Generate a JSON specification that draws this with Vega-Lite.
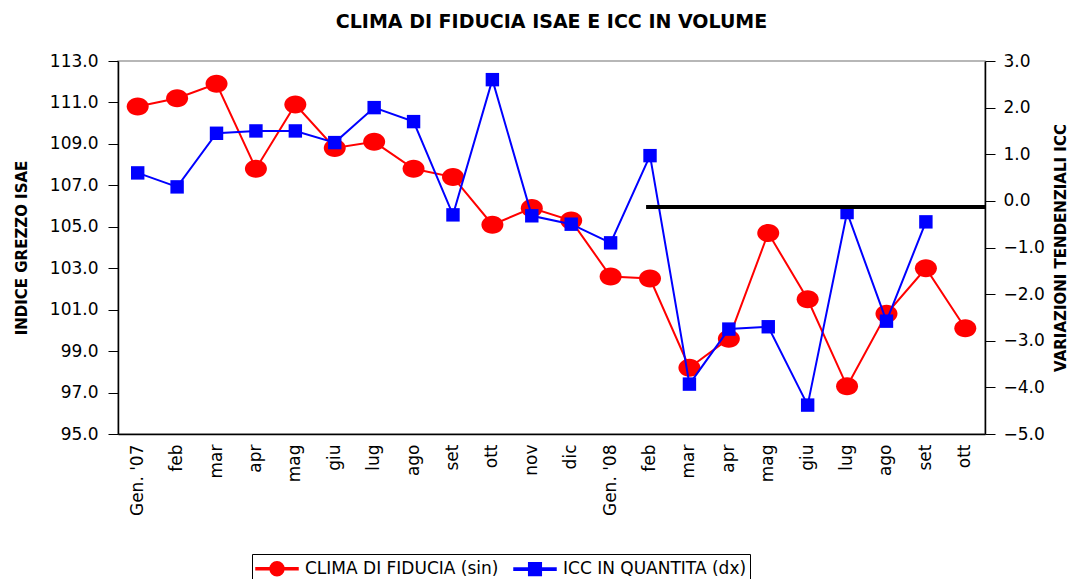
{
  "$schema": "https://vega.github.io/schema/vega-lite/v6.json",
  "autosize": {"type": "none"},
  "padding": {"left": 118, "top": 61, "right": 87, "bottom": 145},
  "width": 867,
  "height": 373,
  "background": "white",
  "config": {
    "font": "DejaVu Sans",
    "view": {"stroke": "#a0a0a0", "strokeWidth": 1.5},
    "axis": {"grid": false, "domainColor": "black", "domainWidth": 1.5, "tickColor": "black", "labelColor": "black", "titleColor": "black", "labelFont": "DejaVu Sans", "titleFont": "DejaVu Sans"}
  },
  "title": {"text": "CLIMA DI FIDUCIA ISAE E ICC IN VOLUME", "font": "DejaVu Sans", "fontSize": 19, "fontWeight": "bold", "color": "black", "anchor": "middle", "offset": 20},
  "datasets": {
    "clima": [
      {"m": "Gen. '07", "s": "CLIMA DI FIDUCIA (sin)", "v": 110.8},
      {"m": "feb 07", "s": "CLIMA DI FIDUCIA (sin)", "v": 111.2},
      {"m": "mar 07", "s": "CLIMA DI FIDUCIA (sin)", "v": 111.9},
      {"m": "apr 07", "s": "CLIMA DI FIDUCIA (sin)", "v": 107.8},
      {"m": "mag 07", "s": "CLIMA DI FIDUCIA (sin)", "v": 110.9},
      {"m": "giu 07", "s": "CLIMA DI FIDUCIA (sin)", "v": 108.8},
      {"m": "lug 07", "s": "CLIMA DI FIDUCIA (sin)", "v": 109.1},
      {"m": "ago 07", "s": "CLIMA DI FIDUCIA (sin)", "v": 107.8},
      {"m": "set 07", "s": "CLIMA DI FIDUCIA (sin)", "v": 107.4},
      {"m": "ott 07", "s": "CLIMA DI FIDUCIA (sin)", "v": 105.1},
      {"m": "nov 07", "s": "CLIMA DI FIDUCIA (sin)", "v": 105.9},
      {"m": "dic 07", "s": "CLIMA DI FIDUCIA (sin)", "v": 105.3},
      {"m": "Gen. '08", "s": "CLIMA DI FIDUCIA (sin)", "v": 102.6},
      {"m": "feb 08", "s": "CLIMA DI FIDUCIA (sin)", "v": 102.5},
      {"m": "mar 08", "s": "CLIMA DI FIDUCIA (sin)", "v": 98.2},
      {"m": "apr 08", "s": "CLIMA DI FIDUCIA (sin)", "v": 99.6},
      {"m": "mag 08", "s": "CLIMA DI FIDUCIA (sin)", "v": 104.7},
      {"m": "giu 08", "s": "CLIMA DI FIDUCIA (sin)", "v": 101.5},
      {"m": "lug 08", "s": "CLIMA DI FIDUCIA (sin)", "v": 97.3},
      {"m": "ago 08", "s": "CLIMA DI FIDUCIA (sin)", "v": 100.8},
      {"m": "set 08", "s": "CLIMA DI FIDUCIA (sin)", "v": 103.0},
      {"m": "ott 08", "s": "CLIMA DI FIDUCIA (sin)", "v": 100.1}
    ],
    "icc": [
      {"m": "Gen. '07", "s": "ICC IN QUANTITA (dx)", "v": 0.6},
      {"m": "feb 07", "s": "ICC IN QUANTITA (dx)", "v": 0.3},
      {"m": "mar 07", "s": "ICC IN QUANTITA (dx)", "v": 1.45},
      {"m": "apr 07", "s": "ICC IN QUANTITA (dx)", "v": 1.5},
      {"m": "mag 07", "s": "ICC IN QUANTITA (dx)", "v": 1.5},
      {"m": "giu 07", "s": "ICC IN QUANTITA (dx)", "v": 1.25},
      {"m": "lug 07", "s": "ICC IN QUANTITA (dx)", "v": 2.0},
      {"m": "ago 07", "s": "ICC IN QUANTITA (dx)", "v": 1.7},
      {"m": "set 07", "s": "ICC IN QUANTITA (dx)", "v": -0.3},
      {"m": "ott 07", "s": "ICC IN QUANTITA (dx)", "v": 2.6},
      {"m": "nov 07", "s": "ICC IN QUANTITA (dx)", "v": -0.32},
      {"m": "dic 07", "s": "ICC IN QUANTITA (dx)", "v": -0.5},
      {"m": "Gen. '08", "s": "ICC IN QUANTITA (dx)", "v": -0.9},
      {"m": "feb 08", "s": "ICC IN QUANTITA (dx)", "v": 0.97},
      {"m": "mar 08", "s": "ICC IN QUANTITA (dx)", "v": -3.93},
      {"m": "apr 08", "s": "ICC IN QUANTITA (dx)", "v": -2.75},
      {"m": "mag 08", "s": "ICC IN QUANTITA (dx)", "v": -2.7},
      {"m": "giu 08", "s": "ICC IN QUANTITA (dx)", "v": -4.38},
      {"m": "lug 08", "s": "ICC IN QUANTITA (dx)", "v": -0.25},
      {"m": "ago 08", "s": "ICC IN QUANTITA (dx)", "v": -2.58},
      {"m": "set 08", "s": "ICC IN QUANTITA (dx)", "v": -0.45}
    ],
    "rif": [
      {"m": "feb 08", "m2": "ott 08", "v": -0.13}
    ]
  },
  "encoding": {
    "x": {
      "field": "m", "type": "nominal",
      "scale": {"domain": ["Gen. '07", "feb 07", "mar 07", "apr 07", "mag 07", "giu 07", "lug 07", "ago 07", "set 07", "ott 07", "nov 07", "dic 07", "Gen. '08", "feb 08", "mar 08", "apr 08", "mag 08", "giu 08", "lug 08", "ago 08", "set 08", "ott 08"], "paddingInner": 0, "paddingOuter": 0},
      "axis": {"title": null, "labelAngle": -90, "labelFontSize": 17, "labelPadding": 10, "ticks": false, "labelExpr": "indexof(datum.value, 'Gen') == 0 ? datum.value : split(datum.value, ' ')[0]"}
    }
  },
  "layer": [
    {
      "data": {"name": "clima"},
      "encoding": {
        "y": {"field": "v", "type": "quantitative", "scale": {"domain": [95, 113], "nice": false, "zero": false},
          "axis": {"orient": "left", "values": [95, 97, 99, 101, 103, 105, 107, 109, 111, 113], "format": ".1f", "tickSize": 10, "labelFontSize": 17, "labelPadding": 10, "title": "INDICE GREZZO ISAE", "titleFontSize": 15, "titleFontWeight": "bold", "titlePadding": 20}},
        "color": {"field": "s", "type": "nominal",
          "scale": {"domain": ["CLIMA DI FIDUCIA (sin)", "ICC IN QUANTITA (dx)"], "range": ["#ff0000", "#0000ff"]},
          "legend": {"orient": "none", "legendX": 134, "legendY": 493, "direction": "horizontal", "title": null, "strokeColor": "black", "padding": 3, "labelFontSize": 17, "labelLimit": 400, "labelFont": "DejaVu Sans", "labelColor": "black", "symbolSize": 441, "columnPadding": 12, "labelOffset": 27,
            "encode": {"symbols": {"update": {
              "shape": {"signal": "datum.value === 'CLIMA DI FIDUCIA (sin)' ? 'M-1,-0.1H3V0.1H-1Z M1.66,0A0.66,0.66 0 1 1 0.34,0A0.66,0.66 0 1 1 1.66,0Z' : 'M-1,-0.1H3V0.1H-1Z M0.4,-0.6H1.6V0.6H0.4Z'"},
              "fill": {"scale": "color", "field": "value"},
              "stroke": {"value": "transparent"},
              "opacity": {"value": 1}
            }}}}
        }
      },
      "layer": [
        {"mark": {"type": "line", "strokeWidth": 2}},
        {"mark": {"type": "point", "filled": true, "opacity": 1, "shape": "M1,0A1,0.82 0 1 1 -1,0A1,0.82 0 1 1 1,0Z", "size": 484}}
      ]
    },
    {
      "encoding": {
        "y": {"field": "v", "type": "quantitative", "scale": {"domain": [-5, 3], "nice": false, "zero": false},
          "axis": {"orient": "right", "values": [-5, -4, -3, -2, -1, 0, 1, 2, 3], "format": ".1f", "tickSize": 10, "labelFontSize": 17, "labelPadding": 8, "title": "VARIAZIONI TENDENZIALI ICC", "titleFontSize": 15, "titleFontWeight": "bold", "titleAngle": -90, "titlePadding": 24}}
      },
      "layer": [
        {"data": {"name": "icc"}, "mark": {"type": "line", "strokeWidth": 2}, "encoding": {"color": {"field": "s", "type": "nominal"}}},
        {"data": {"name": "icc"}, "mark": {"type": "point", "filled": true, "opacity": 1, "shape": "square", "size": 180}, "encoding": {"color": {"field": "s", "type": "nominal"}}},
        {"data": {"name": "rif"}, "mark": {"type": "rule", "color": "black", "strokeWidth": 4},
          "encoding": {"x": {"field": "m", "type": "nominal", "bandPosition": 0.4}, "x2": {"field": "m2", "bandPosition": 1}}}
      ]
    }
  ],
  "resolve": {"scale": {"y": "independent"}}
}
